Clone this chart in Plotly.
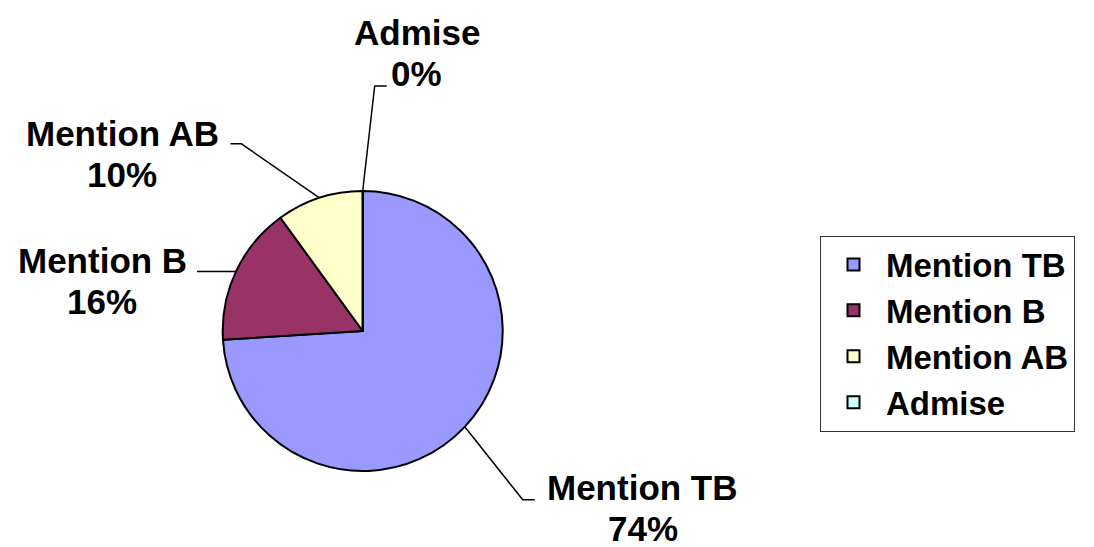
import math
import plotly.graph_objects as go

# ---- data ----
categories = ["Mention TB", "Mention B", "Mention AB", "Admise"]
values = [74, 16, 10, 0]
colors = ["#9999FF", "#993366", "#FFFFCC", "#CCFFFF"]

# ---- layout constants (screen pixels) ----
SW, SH = 1094, 547          # browser window
OFF = 8                      # default page body margin
W, H = SW - OFF, SH - OFF    # figure size
CX, CY, R = 362.7, 331.0, 140.0
FONT = "Liberation Sans, Arial, sans-serif"
LINE_GAP = 41                # distance between label lines

# leader-line elbow / end and label offsets relative to arc anchor (style)
elbow_off = [(58, 73), (-39, 0), (-78, -54), (12, -105)]
end_off = [(70, 73), (-39, 0), (-89, -54), (24, -105)]
label_off = [(178, 81), (-134, 10), (-197, -44), (54, -138)]


def px(x):
    return (x - OFF) / W


def py(y):
    return 1 - (y - OFF) / H


fig = go.Figure()
fig.add_trace(go.Pie(
    labels=categories, values=values, sort=False, direction="clockwise", rotation=0,
    marker=dict(colors=colors, line=dict(color="black", width=2)),
    textinfo="none", hoverinfo="label+percent",
    domain=dict(x=[px(CX - R), px(CX + R)], y=[py(CY + R), py(CY - R)]),
    showlegend=True,
))

# invisible pixel axes (screen coordinates) for annotations/shapes
fig.update_xaxes(range=[OFF, SW], visible=False, fixedrange=True)
fig.update_yaxes(range=[SH, OFF], visible=False, fixedrange=True)

label_font = dict(family=FONT, size=35, color="black", weight="bold")
total = sum(values)
cum = 0
for i, (cat, v) in enumerate(zip(categories, values)):
    mid = (cum + v / 2) / total * 2 * math.pi
    cum += v
    ax = CX + R * math.sin(mid)
    ay = CY - R * math.cos(mid)
    ex, ey = ax + elbow_off[i][0], ay + elbow_off[i][1]
    tx, ty = ax + end_off[i][0], ay + end_off[i][1]
    fig.add_shape(type="path", xref="x", yref="y",
                  path=f"M{ax},{ay} L{ex},{ey} L{tx},{ty}",
                  line=dict(color="black", width=1.5))
    pct = round(v / total * 100)
    lx, ly = ax + label_off[i][0], ay + label_off[i][1]
    fig.add_annotation(x=lx, y=ly - LINE_GAP / 2, xref="x", yref="y",
                       text=cat, showarrow=False,
                       xanchor="center", yanchor="middle", font=label_font)
    fig.add_annotation(x=lx, y=ly + LINE_GAP / 2, xref="x", yref="y",
                       text=f"{pct}%", showarrow=False,
                       xanchor="center", yanchor="middle", font=label_font)

fig.update_layout(
    width=W, height=H,
    margin=dict(l=0, r=0, t=0, b=0),
    paper_bgcolor="white", plot_bgcolor="white",
    legend=dict(x=px(820), xanchor="left", y=py(333.5), yanchor="middle",
                font=dict(family=FONT, size=33, color="black", weight="bold"),
                bordercolor="#333333", borderwidth=1, bgcolor="white",
                itemwidth=55),
)

fig.write_html("out.html")
